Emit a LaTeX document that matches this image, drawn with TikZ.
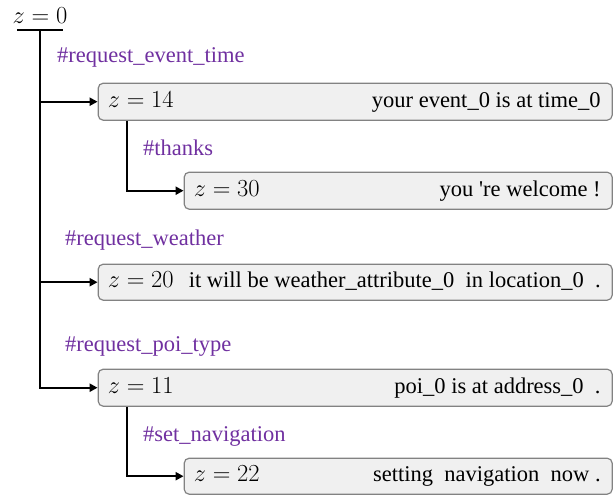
\RequirePackage{fix-cm}
\documentclass[tikz,border=0pt]{standalone}
\usepackage{fontspec}
\setmainfont{Liberation Serif}
\usetikzlibrary{arrows.meta,positioning}

\definecolor{intentcol}{RGB}{112,48,160}
\definecolor{boxfill}{RGB}{240,240,240}
\definecolor{boxline}{RGB}{130,130,130}

\tikzset{
  turn/.style={draw=boxline, fill=boxfill, rounded corners=5pt, line width=1.2pt,
    anchor=north west, inner sep=0pt, minimum height=#1},
  turn/.default=36pt,
  intent/.style={text=intentcol, anchor=west, inner sep=0pt},
  zval/.style={anchor=west, inner sep=0pt, text height=16pt, text depth=5pt,
    font=\fontsize{24.5}{28}\selectfont},
  reply/.style={anchor=east, inner sep=0pt, text height=16pt, text depth=5pt},
  link/.style={line width=2.4pt, -{Triangle[length=8pt,width=8pt]}},
}

\begin{document}
\begin{tikzpicture}[x=1pt, y=-1pt, font=\fontsize{22.5}{26}\selectfont]
  \useasboundingbox (0,0) rectangle (613,496);

  % root of the dialogue tree
  \node[inner sep=0pt, font=\fontsize{24.5}{28}\selectfont] (root) at (40,16) {$z = 0$};
  \coordinate (bar) at (40,30);
  \draw[line width=2.4pt] ([xshift=-23pt]bar) -- ([xshift=23pt]bar);

  % turns
  \node[turn=37pt, minimum width=514pt] (t1) at (97.6,82.6) {};
  \node[turn=37pt, minimum width=428pt] (t2) at (183.6,171.6) {};
  \node[turn=36pt, minimum width=514pt] (t3) at (97.6,263.6) {};
  \node[turn=37pt, minimum width=514pt] (t4) at (97.6,368.6) {};
  \node[turn=36pt, minimum width=428pt] (t5) at (183.6,457.6) {};

  \node[zval]  (z1) at ([xshift=10pt]t1.west) {$z = 14$};
  \node[reply] (r1) at ([xshift=-12pt]t1.east) {your event\_0 is at time\_0};
  \node[zval]  (z2) at ([xshift=10pt]t2.west) {$z = 30$};
  \node[reply] (r2) at ([xshift=-12pt]t2.east) {you \textquotesingle re welcome !};
  \node[zval]  (z3) at ([xshift=10pt]t3.west) {$z = 20$};
  \node[reply] (r3) at ([xshift=-12pt]t3.east) {it will be weather\_attribute\_0 \ in location\_0 \ .};
  \node[zval]  (z4) at ([xshift=10pt]t4.west) {$z = 11$};
  \node[reply] (r4) at ([xshift=-12pt]t4.east) {poi\_0 is at address\_0 \ .};
  \node[zval]  (z5) at ([xshift=10pt]t5.west) {$z = 22$};
  \node[reply] (r5) at ([xshift=-12pt]t5.east) {setting \ navigation \ now .};

  % intents
  \node[intent] (i1) at (57,57)  {\#request\_event\_time};
  \node[intent] (i2) at (143,148) {\#thanks};
  \node[intent] (i3) at (65,240) {\#request\_weather};
  \node[intent] (i4) at (65,346) {\#request\_poi\_type};
  \node[intent] (i5) at (143,436) {\#set\_navigation};

  % branches
  \draw[link] (bar) |- (t4.west);
  \draw[link] (bar |- t1.west) -- (t1.west);
  \draw[link] (bar |- t3.west) -- (t3.west);
  \draw[link] ([xshift=29.5pt]t1.south west) |- (t2.west);
  \draw[link] ([xshift=29.5pt]t4.south west) |- (t5.west);

\end{tikzpicture}
\end{document}
